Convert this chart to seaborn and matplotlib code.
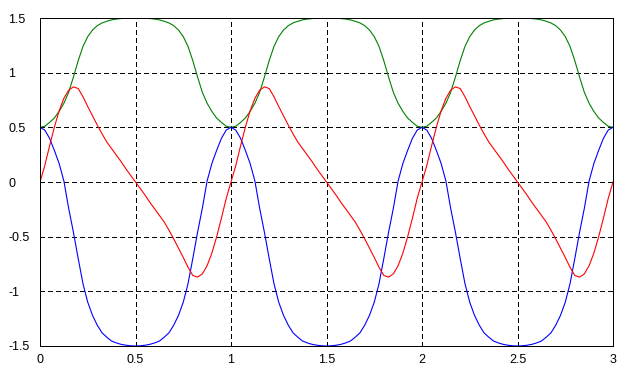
import numpy as np
import pandas as pd
import matplotlib
matplotlib.use("Agg")
import matplotlib.pyplot as plt
import seaborn as sns

# sample positions along x (0 .. 3, step 0.025)
x_values = np.round(np.linspace(0, 3, 121), 3)

green_values = [
    0.5, 0.51, 0.545, 0.585, 0.645, 0.72, 0.82, 0.96, 1.11, 1.24, 1.33, 1.39, 1.43, 1.455, 1.47, 1.483, 1.49, 1.495, 1.498, 1.5,
    1.5, 1.5, 1.498, 1.495, 1.49, 1.483, 1.47, 1.455, 1.43, 1.39, 1.33, 1.24, 1.11, 0.96, 0.82, 0.72, 0.645, 0.585, 0.545, 0.51,
    0.5, 0.51, 0.545, 0.585, 0.645, 0.72, 0.82, 0.96, 1.11, 1.24, 1.33, 1.39, 1.43, 1.455, 1.47, 1.483, 1.49, 1.495, 1.498, 1.5,
    1.5, 1.5, 1.498, 1.495, 1.49, 1.483, 1.47, 1.455, 1.43, 1.39, 1.33, 1.24, 1.11, 0.96, 0.82, 0.72, 0.645, 0.585, 0.545, 0.51,
    0.5, 0.51, 0.545, 0.585, 0.645, 0.72, 0.82, 0.96, 1.11, 1.24, 1.33, 1.39, 1.43, 1.455, 1.47, 1.483, 1.49, 1.495, 1.498, 1.5,
    1.5, 1.5, 1.498, 1.495, 1.49, 1.483, 1.47, 1.455, 1.43, 1.39, 1.33, 1.24, 1.11, 0.96, 0.82, 0.72, 0.645, 0.585, 0.545, 0.51,
    0.5,
]

blue_values = [
    0.5, 0.475, 0.40, 0.29, 0.17, 0.01, -0.24, -0.46, -0.70, -0.93, -1.10, -1.22, -1.31, -1.38, -1.42, -1.455, -1.472, -1.485, -1.493, -1.498,
    -1.5, -1.498, -1.493, -1.485, -1.472, -1.455, -1.42, -1.38, -1.31, -1.22, -1.10, -0.93, -0.70, -0.46, -0.24, 0.01, 0.17, 0.29, 0.40, 0.475,
    0.5, 0.475, 0.40, 0.29, 0.17, 0.01, -0.24, -0.46, -0.70, -0.93, -1.10, -1.22, -1.31, -1.38, -1.42, -1.455, -1.472, -1.485, -1.493, -1.498,
    -1.5, -1.498, -1.493, -1.485, -1.472, -1.455, -1.42, -1.38, -1.31, -1.22, -1.10, -0.93, -0.70, -0.46, -0.24, 0.01, 0.17, 0.29, 0.40, 0.475,
    0.5, 0.475, 0.40, 0.29, 0.17, 0.01, -0.24, -0.46, -0.70, -0.93, -1.10, -1.22, -1.31, -1.38, -1.42, -1.455, -1.472, -1.485, -1.493, -1.498,
    -1.5, -1.498, -1.493, -1.485, -1.472, -1.455, -1.42, -1.38, -1.31, -1.22, -1.10, -0.93, -0.70, -0.46, -0.24, 0.01, 0.17, 0.29, 0.40, 0.475,
    0.5,
]

red_values = [
    0.0, 0.15, 0.33, 0.50, 0.65, 0.765, 0.84, 0.87, 0.855, 0.78, 0.69, 0.605, 0.52, 0.44, 0.365, 0.305, 0.245, 0.185, 0.12, 0.06,
    0.0, -0.06, -0.12, -0.185, -0.245, -0.305, -0.365, -0.44, -0.52, -0.605, -0.69, -0.78, -0.855, -0.87, -0.84, -0.765, -0.65, -0.50, -0.33, -0.15,
    0.0, 0.15, 0.33, 0.50, 0.65, 0.765, 0.84, 0.87, 0.855, 0.78, 0.69, 0.605, 0.52, 0.44, 0.365, 0.305, 0.245, 0.185, 0.12, 0.06,
    0.0, -0.06, -0.12, -0.185, -0.245, -0.305, -0.365, -0.44, -0.52, -0.605, -0.69, -0.78, -0.855, -0.87, -0.84, -0.765, -0.65, -0.50, -0.33, -0.15,
    0.0, 0.15, 0.33, 0.50, 0.65, 0.765, 0.84, 0.87, 0.855, 0.78, 0.69, 0.605, 0.52, 0.44, 0.365, 0.305, 0.245, 0.185, 0.12, 0.06,
    0.0, -0.06, -0.12, -0.185, -0.245, -0.305, -0.365, -0.44, -0.52, -0.605, -0.69, -0.78, -0.855, -0.87, -0.84, -0.765, -0.65, -0.50, -0.33, -0.15,
    0.0,
]

x_ticks = [0, 0.5, 1, 1.5, 2, 2.5, 3]
x_tick_labels = ["0", "0.5", "1", "1.5", "2", "2.5", "3"]
y_ticks = [-1.5, -1, -0.5, 0, 0.5, 1, 1.5]
y_tick_labels = ["-1.5", "-1", "-0.5", "0", "0.5", "1", "1.5"]

series_names = ["green", "blue", "red"]
series_colors = {"green": "#008000", "blue": "#0000FF", "red": "#FF0000"}

df = pd.concat([
    pd.DataFrame({"x": x_values, "y": green_values, "series": "green"}),
    pd.DataFrame({"x": x_values, "y": blue_values, "series": "blue"}),
    pd.DataFrame({"x": x_values, "y": red_values, "series": "red"}),
], ignore_index=True)

plt.rcParams["font.family"] = ["Liberation Sans", "DejaVu Sans"]
plt.rcParams["font.size"] = 9

fig = plt.figure(figsize=(6.33, 3.74), dpi=100)
ax = fig.add_axes([40 / 633, 1 - 346 / 374, 573 / 633, (346 - 18) / 374])

sns.lineplot(data=df, x="x", y="y", hue="series", hue_order=series_names,
             palette=series_colors, linewidth=0.8, legend=False,
             estimator=None, sort=False, ax=ax)

ax.set_xlim(0, 3)
ax.set_ylim(-1.5, 1.5)
ax.set_xticks(x_ticks)
ax.set_xticklabels(x_tick_labels)
ax.set_yticks(y_ticks)
ax.set_yticklabels(y_tick_labels)
ax.set_xlabel("")
ax.set_ylabel("")
ax.grid(True, color="black", linestyle=(0, (4.5, 3)), linewidth=0.75, antialiased=False)
ax.set_axisbelow(True)
ax.tick_params(axis="both", length=0, colors="black", labelsize=9)
ax.tick_params(axis="x", pad=6)
ax.tick_params(axis="y", pad=23)
for lbl in ax.get_yticklabels():
    lbl.set_horizontalalignment("left")
for sp in ax.spines.values():
    sp.set_color("black")
    sp.set_linewidth(0.72)
    sp.set_antialiased(False)
ax.set_facecolor("white")
fig.patch.set_facecolor("white")

fig.savefig("out.png", dpi=100)
